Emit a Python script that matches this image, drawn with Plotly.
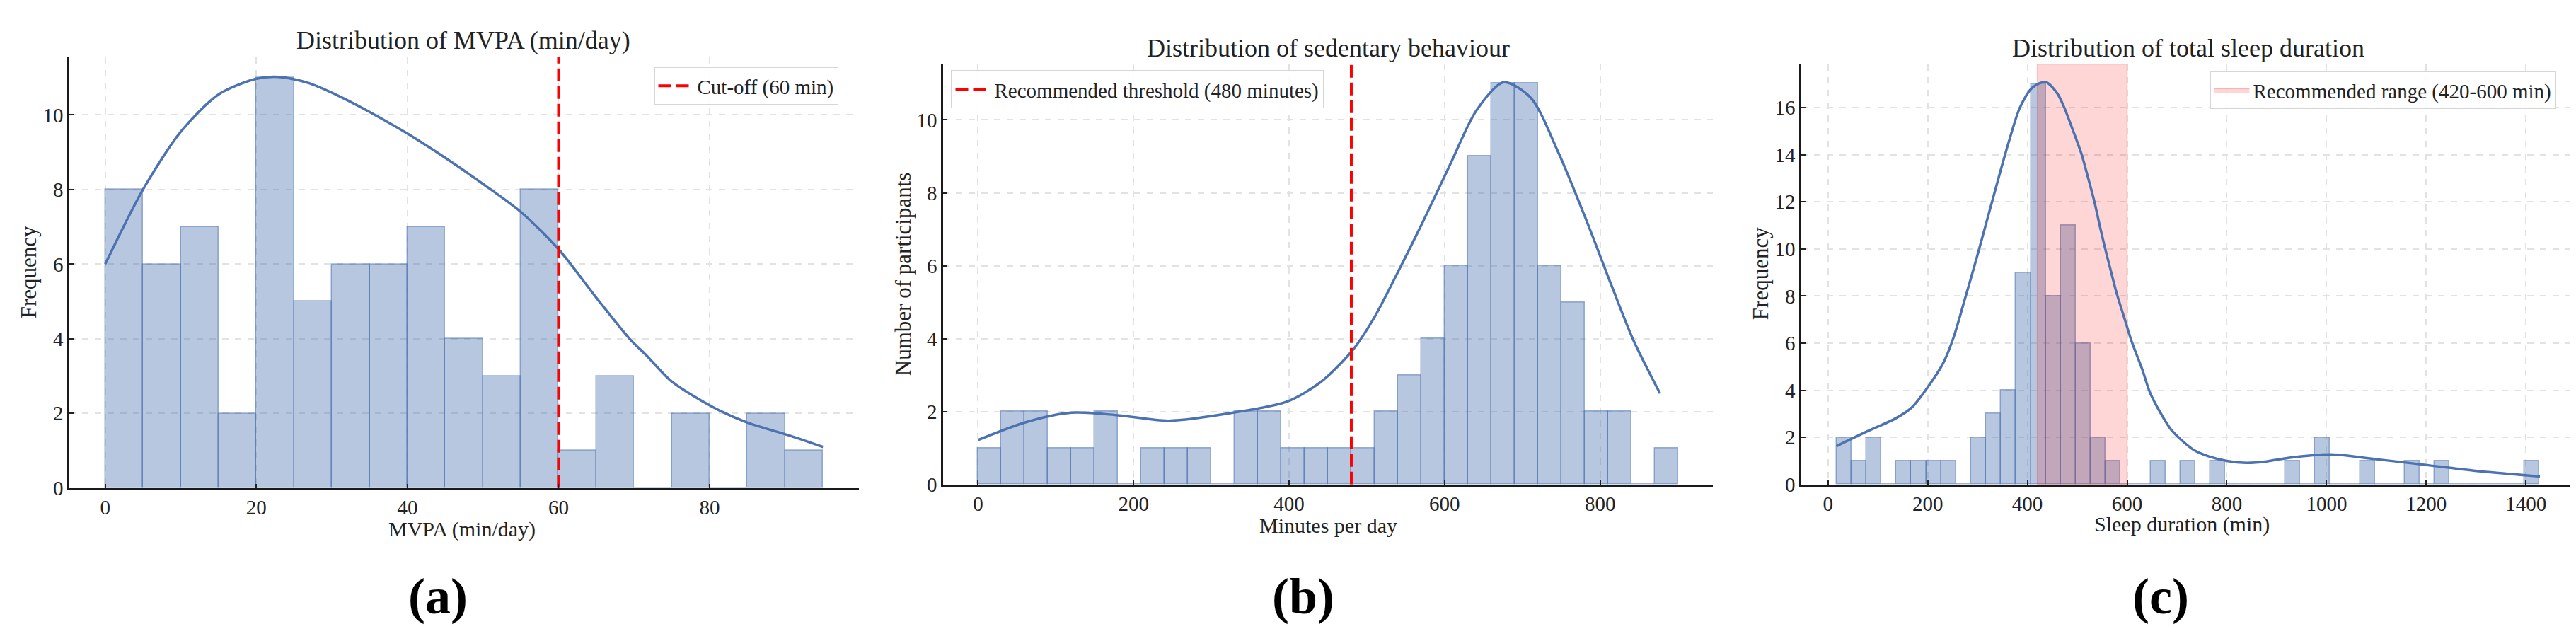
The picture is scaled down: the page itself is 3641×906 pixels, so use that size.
import plotly.graph_objects as go
import numpy as np

W, H = 3641, 906
FONT = "Liberation Serif"

# (a) MVPA histogram (bins of 5 min from 0) and KDE
mvpa_start, mvpa_width = 0, 5
mvpa_counts = [8, 6, 7, 2, 11, 5, 6, 6, 7, 4, 3, 8, 1, 3, 0, 2, 0, 2, 1]
mvpa_kde_x = [0, 5, 10, 15, 20, 23, 27, 31, 35.7, 40, 45, 50, 55, 60, 65,
              69.4, 71.6, 75, 80.4, 85, 90.5, 95]
mvpa_kde_y = [6.0, 8.0, 9.55, 10.55, 10.97, 11.02, 10.85, 10.5, 10.0, 9.5, 8.85, 8.15, 7.4, 6.4, 5.1,
              4.0, 3.56, 2.85, 2.17, 1.75, 1.41, 1.1]
mvpa_cutoff = 60

# (b) sedentary behaviour (bins of 30 min from 0)
sed_start, sed_width = 0, 30
sed_counts = [1, 2, 2, 1, 1, 2, 0, 1, 1, 1, 0, 2, 2, 1, 1, 1, 1, 2, 3, 4,
              6, 9, 11, 11, 6, 5, 2, 2, 0, 1]
sed_kde_x = [0, 60, 120, 180, 245, 328, 398, 440, 480, 509, 537, 572, 607, 641,
             676, 711, 746, 780, 815, 843, 877]
sed_kde_y = [1.22, 1.7, 1.97, 1.9, 1.75, 1.97, 2.28, 2.8, 3.64, 4.56, 5.7, 7.2, 8.77, 10.26,
             11.03, 10.6, 9.12, 7.37, 5.44, 3.95, 2.5]
sed_threshold = 480

# (c) total sleep duration (bins of 30 min from 17)
sleep_start, sleep_width = 17, 30
sleep_counts = [2, 1, 2, 0, 1, 1, 1, 1, 0, 2, 3, 4, 9, 17, 8, 11, 6, 2, 1, 0,
                0, 1, 0, 1, 0, 1, 0, 0, 0, 0, 1, 0, 2, 0, 0, 1, 0, 0, 1, 0,
                1, 0, 0, 0, 0, 0, 1]
sleep_kde_x = [17, 78, 135, 167, 199, 231, 252, 275, 298, 320, 342, 362, 385, 410,
               436, 460, 474, 492, 509, 522, 534.5, 545, 555, 567, 578.5, 597.5, 609,
               631, 645, 664, 687.5, 711, 735, 763, 800, 839, 880, 923, 1008, 1097,
               1196, 1295, 1428]
sleep_kde_y = [1.63, 2.25, 2.8, 3.25, 4.1, 5.15, 6.25, 7.9, 9.6, 11.3, 13.0, 14.5, 16.0, 16.85,
               17.09, 16.6, 16.0, 15.0, 14.0, 13.0, 12.0, 11.0, 10.1, 9.1, 8.16, 6.86, 6.08,
               4.85, 3.95, 3.15, 2.35, 1.85, 1.45, 1.2, 1.0, 0.92, 0.98, 1.13, 1.28, 1.08,
               0.84, 0.59, 0.34]
sleep_range = (420, 600)

BAR = "rgba(76,114,176,0.4)"
BAR_EDGE = "rgba(76,114,176,0.55)"
KDE = "#4C72B0"


def px_x(p):
    return p / W


def px_y(p):
    return 1 - p / H


def centers(start, width, counts):
    return start + width * (np.arange(len(counts)) + 0.5)


def auto_range(start, width, counts):
    lo, hi = start, start + width * len(counts)
    m = 0.05 * (hi - lo)
    return [lo - m, hi + m], [0, max(counts) * 1.05]


panels = [
    dict(counts=mvpa_counts, start=mvpa_start, width=mvpa_width,
         kx=mvpa_kde_x, ky=mvpa_kde_y, dom_x=(90, 1206), dom_y=(74, 694), dtick=20),
    dict(counts=sed_counts, start=sed_start, width=sed_width,
         kx=sed_kde_x, ky=sed_kde_y, dom_x=(1325, 2413), dom_y=(83, 689), dtick=200),
    dict(counts=sleep_counts, start=sleep_start, width=sleep_width,
         kx=sleep_kde_x, ky=sleep_kde_y, dom_x=(2538, 3631), dom_y=(84, 689), dtick=200),
]

fig = go.Figure()
layout = {}

for i, p in enumerate(panels):
    n = "" if i == 0 else str(i + 1)
    xr, yr = auto_range(p["start"], p["width"], p["counts"])
    p["xr"], p["yr"] = xr, yr
    fig.add_trace(go.Bar(
        x=centers(p["start"], p["width"], p["counts"]), y=p["counts"],
        width=p["width"], marker=dict(color=BAR, line=dict(color=BAR_EDGE, width=1.5)),
        xaxis="x" + n, yaxis="y" + n, showlegend=False))
    axis_common = dict(showgrid=True, gridcolor="#e2e2e2", griddash="dash", gridwidth=1.5,
                       showline=True, linewidth=2.5, linecolor="#1a1a1a", mirror=False,
                       ticks="inside", ticklen=6, tickwidth=1.5, tickcolor="#222",
                       zeroline=False, tickfont=dict(family=FONT, size=29, color="#222"))
    layout["xaxis" + n] = dict(axis_common, domain=[px_x(p["dom_x"][0]), px_x(p["dom_x"][1])],
                               range=xr, dtick=p["dtick"], tick0=0, anchor="y" + n)
    layout["yaxis" + n] = dict(axis_common, domain=[px_y(p["dom_y"][1]), px_y(p["dom_y"][0])],
                               range=yr, dtick=2, tick0=0, anchor="x" + n)

# (c) recommended range band, drawn above the bars
lo, hi = sleep_range
top_c = panels[2]["yr"][1]
fig.add_trace(go.Scatter(
    x=[lo, hi, hi, lo, lo], y=[0, 0, top_c, top_c, 0], fill="toself",
    fillcolor="rgba(255,0,0,0.16)", mode="lines", line=dict(color="rgba(255,0,0,0.22)", width=1.5),
    name="Recommended range (420-600 min)", xaxis="x3", yaxis="y3", legend="legend3"))

# KDE curves
for i, p in enumerate(panels):
    n = "" if i == 0 else str(i + 1)
    fig.add_trace(go.Scatter(
        x=p["kx"], y=p["ky"], mode="lines",
        line=dict(color=KDE, width=3.5, shape="spline", smoothing=0.8),
        xaxis="x" + n, yaxis="y" + n, showlegend=False))

# threshold lines
fig.add_trace(go.Scatter(
    x=[mvpa_cutoff, mvpa_cutoff], y=panels[0]["yr"], mode="lines",
    line=dict(color="red", width=4, dash="18px,7px"),
    name="Cut-off (60 min)", xaxis="x", yaxis="y", legend="legend"))
fig.add_trace(go.Scatter(
    x=[sed_threshold, sed_threshold], y=panels[1]["yr"], mode="lines",
    line=dict(color="red", width=4, dash="18px,7px"),
    name="Recommended threshold (480 minutes)", xaxis="x2", yaxis="y2", legend="legend2"))

legend_common = dict(bgcolor="rgba(255,255,255,0.9)", bordercolor="#d6d6d6", borderwidth=1.5,
                     font=dict(family=FONT, size=29, color="#222"),
                     xanchor="left", yanchor="top", itemwidth=50)
layout["legend"] = dict(legend_common, x=px_x(916), y=px_y(88))
layout["legend2"] = dict(legend_common, x=px_x(1336), y=px_y(93))
layout["legend3"] = dict(legend_common, x=px_x(3115), y=px_y(94))

titles = [("Distribution of MVPA (min/day)", 647, 50),
          ("Distribution of sedentary behaviour", 1869, 61),
          ("Distribution of total sleep duration", 3085, 61)]
xlabels = [("MVPA (min/day)", 645, 753),
           ("Minutes per day", 1869, 748),
           ("Sleep duration (min)", 3076, 746)]
ylabels = [("Frequency", 32, 384),
           ("Number of participants", 1268, 386),
           ("Frequency", 2480, 386)]
panel_tags = [("(a)", 611, 850), ("(b)", 1834, 850), ("(c)", 3046, 850)]


def note(text, x, y, size, color="#222", angle=0):
    return dict(text=text, x=px_x(x), y=px_y(y), xref="paper", yref="paper",
                xanchor="center", yanchor="middle", showarrow=False, textangle=angle,
                font=dict(family=FONT, size=size, color=color))


ann = []
for text, x, y in titles:
    ann.append(note(text, x, y, 36))
for text, x, y in xlabels:
    ann.append(note(text, x, y, 30))
for text, x, y in ylabels:
    ann.append(note(text, x, y, 31, angle=-90))
for text, x, y in panel_tags:
    ann.append(note("<b>" + text + "</b>", x, y, 72, color="#000"))

fig.update_layout(
    width=W, height=H, margin=dict(l=0, r=0, t=0, b=0),
    paper_bgcolor="white", plot_bgcolor="white", barmode="overlay", bargap=0,
    annotations=ann, **layout)

fig.write_html("out.html")
